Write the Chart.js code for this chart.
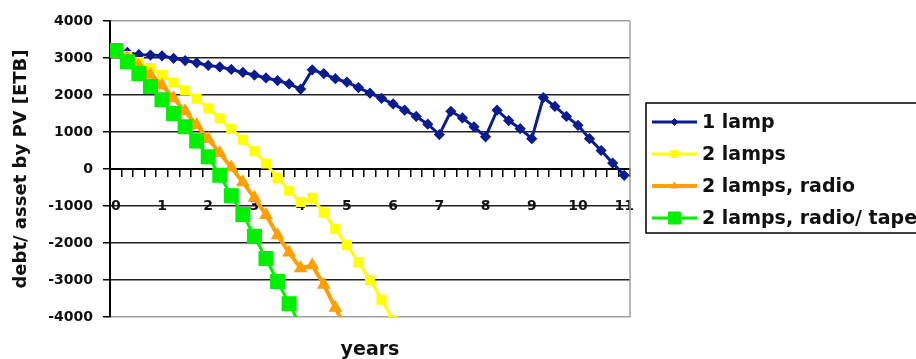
<!DOCTYPE html>
<html>
<head>
<meta charset="utf-8">
<script src="https://cdn.jsdelivr.net/npm/chart.js@4.4.1/dist/chart.umd.min.js"></script>
<style>
    html, body { margin: 0; padding: 0; background: #fff; }
    #wrap { width: 916px; height: 359px; }
</style>
</head>
<body>
<div id="wrap"><canvas id="debt_plot" width="916" height="359"></canvas></div>
<script>
// year labels shown under every 4th quarter
var yearLabels = ['0', '1', '2', '3', '4', '5', '6', '7', '8', '9', '10', '11'];
var quarters = [];
for (var q = 0; q <= 44; q++) {
    quarters.push(q % 4 === 0 ? yearLabels[q / 4] : '');
}

var seriesNames = ['1 lamp', '2 lamps', '2 lamps, radio', '2 lamps, radio/ tape'];

// values (ETB), one per quarter
var oneLamp = [3200, 3150, 3090, 3080, 3060, 2990, 2930, 2870, 2800, 2760, 2690, 2610,
    2540, 2460, 2390, 2300, 2160, 2680, 2580, 2440, 2350, 2200, 2050, 1910, 1760,
    1590, 1420, 1210, 930, 1560, 1380, 1140, 870, 1590, 1310, 1090, 820, 1930,
    1690, 1420, 1180, 820, 500, 160, -170];
var twoLamps = [3200, 3050, 2890, 2730, 2540, 2340, 2130, 1900, 1640, 1370, 1080, 790,
    480, 150, -240, -590, -890, -780, -1180, -1620, -2060, -2520, -3000, -3530, -4080];
var twoLampsRadio = [3200, 3000, 2790, 2550, 2260, 1910, 1560, 1190, 810, 430, 40, -360,
    -780, -1240, -1790, -2260, -2680, -2600, -3130, -3750, -4350];
var twoLampsRadioTape = [3200, 2900, 2580, 2230, 1870, 1500, 1140, 760, 330, -170, -720,
    -1230, -1820, -2420, -3040, -3640, -4250];

var boldFont = function (size) {
    return { family: '"DejaVu Sans", sans-serif', weight: 'bold', size: size };
};

// plot frame, x title and the boxed legend on the right
var framePlugin = {
    id: 'framePlugin',
    beforeDatasetsDraw: function (chart) {
        var ctx = chart.ctx, a = chart.chartArea;
        ctx.save();
        ctx.strokeStyle = '#a0a0a0';
        ctx.lineWidth = 1.5;
        ctx.beginPath();
        ctx.moveTo(a.right, a.top);
        ctx.lineTo(a.right, a.bottom);
        ctx.stroke();
        ctx.restore();
    },
    afterDraw: function (chart) {
        var ctx = chart.ctx, a = chart.chartArea;
        ctx.save();
        ctx.fillStyle = '#111';
        ctx.font = 'bold 19px "DejaVu Sans"';
        ctx.textAlign = 'center';
        ctx.textBaseline = 'alphabetic';
        ctx.fillText('years', (a.left + a.right) / 2, 355);

        ctx.strokeStyle = '#000';
        ctx.lineWidth = 1.5;
        ctx.strokeRect(646, 103, 300, 130);

        var rows = [122, 154, 186, 218];
        chart.data.datasets.forEach(function (ds, i) {
            var y = rows[i];
            ctx.strokeStyle = ds.borderColor;
            ctx.lineWidth = ds.borderWidth;
            ctx.beginPath();
            ctx.moveTo(652, y);
            ctx.lineTo(697, y);
            ctx.stroke();
            ctx.fillStyle = ds.backgroundColor;
            ctx.lineWidth = 1;
            Chart.helpers.drawPoint(ctx, {
                pointStyle: ds.pointStyle, radius: ds.pointRadius, rotation: 0, borderWidth: 1
            }, 674.5, y);
            ctx.fillStyle = '#111';
            ctx.textAlign = 'left';
            ctx.textBaseline = 'middle';
            ctx.fillText(ds.label, 702, y + 1);
        });
        ctx.restore();
    }
};

var ctx = document.getElementById('debt_plot').getContext('2d');
var debtChart = new Chart(ctx, {
    type: 'line',
    data: {
        labels: quarters,
        datasets: [{
            label: seriesNames[0],
            data: oneLamp,
            borderColor: '#0b1c8e',
            backgroundColor: '#0b1c8e',
            borderWidth: 3,
            pointStyle: 'rectRot',
            pointRadius: 3.5,
            order: 4
        }, {
            label: seriesNames[1],
            data: twoLamps,
            borderColor: '#ffff00',
            backgroundColor: '#ffff00',
            borderWidth: 3,
            pointStyle: 'rect',
            pointRadius: 5,
            order: 3
        }, {
            label: seriesNames[2],
            data: twoLampsRadio,
            borderColor: '#ff9f00',
            backgroundColor: '#ff9f00',
            borderWidth: 4,
            pointStyle: 'triangle',
            pointRadius: 4,
            order: 2
        }, {
            label: seriesNames[3],
            data: twoLampsRadioTape,
            borderColor: '#00f000',
            backgroundColor: '#00f000',
            borderWidth: 3,
            pointStyle: 'rect',
            pointRadius: 8.5,
            order: 1
        }]
    },
    options: {
        responsive: false,
        animation: false,
        clip: 0,
        datasets: { line: { clip: 0, tension: 0 } },
        layout: {
            padding: { left: 0, right: 286, top: 21, bottom: 42 }
        },
        plugins: {
            legend: { display: false },
            tooltip: { enabled: false }
        },
        scales: {
            x: {
                type: 'category',
                position: { y: 0 },
                offset: true,
                grid: {
                    offset: true,
                    drawOnChartArea: false,
                    tickLength: 7,
                    color: '#000',
                    lineWidth: 1.5
                },
                border: { color: '#000', width: 2 },
                ticks: {
                    autoSkip: false,
                    maxRotation: 0,
                    padding: 22,
                    color: '#111',
                    font: boldFont(14),
                    callback: function (v, i) { return quarters[i]; }
                }
            },
            y: {
                min: -4000,
                max: 4000,
                afterFit: function (scale) { scale.width = 110; },
                ticks: {
                    stepSize: 1000,
                    padding: 10,
                    color: '#111',
                    font: boldFont(14),
                    callback: function (v) { return String(v); }
                },
                grid: {
                    color: function (c) {
                        return (c.tick && Math.abs(c.tick.value) === 4000) ? '#a0a0a0' : '#222';
                    },
                    tickColor: '#000',
                    tickLength: 7,
                    lineWidth: 1.5
                },
                border: { color: '#000', width: 2 },
                title: {
                    display: true,
                    text: 'debt/ asset by PV [ETB]',
                    color: '#111',
                    font: boldFont(18),
                    padding: { top: 11, bottom: 0 }
                }
            }
        }
    },
    plugins: [framePlugin]
});
</script>
</body>
</html>
